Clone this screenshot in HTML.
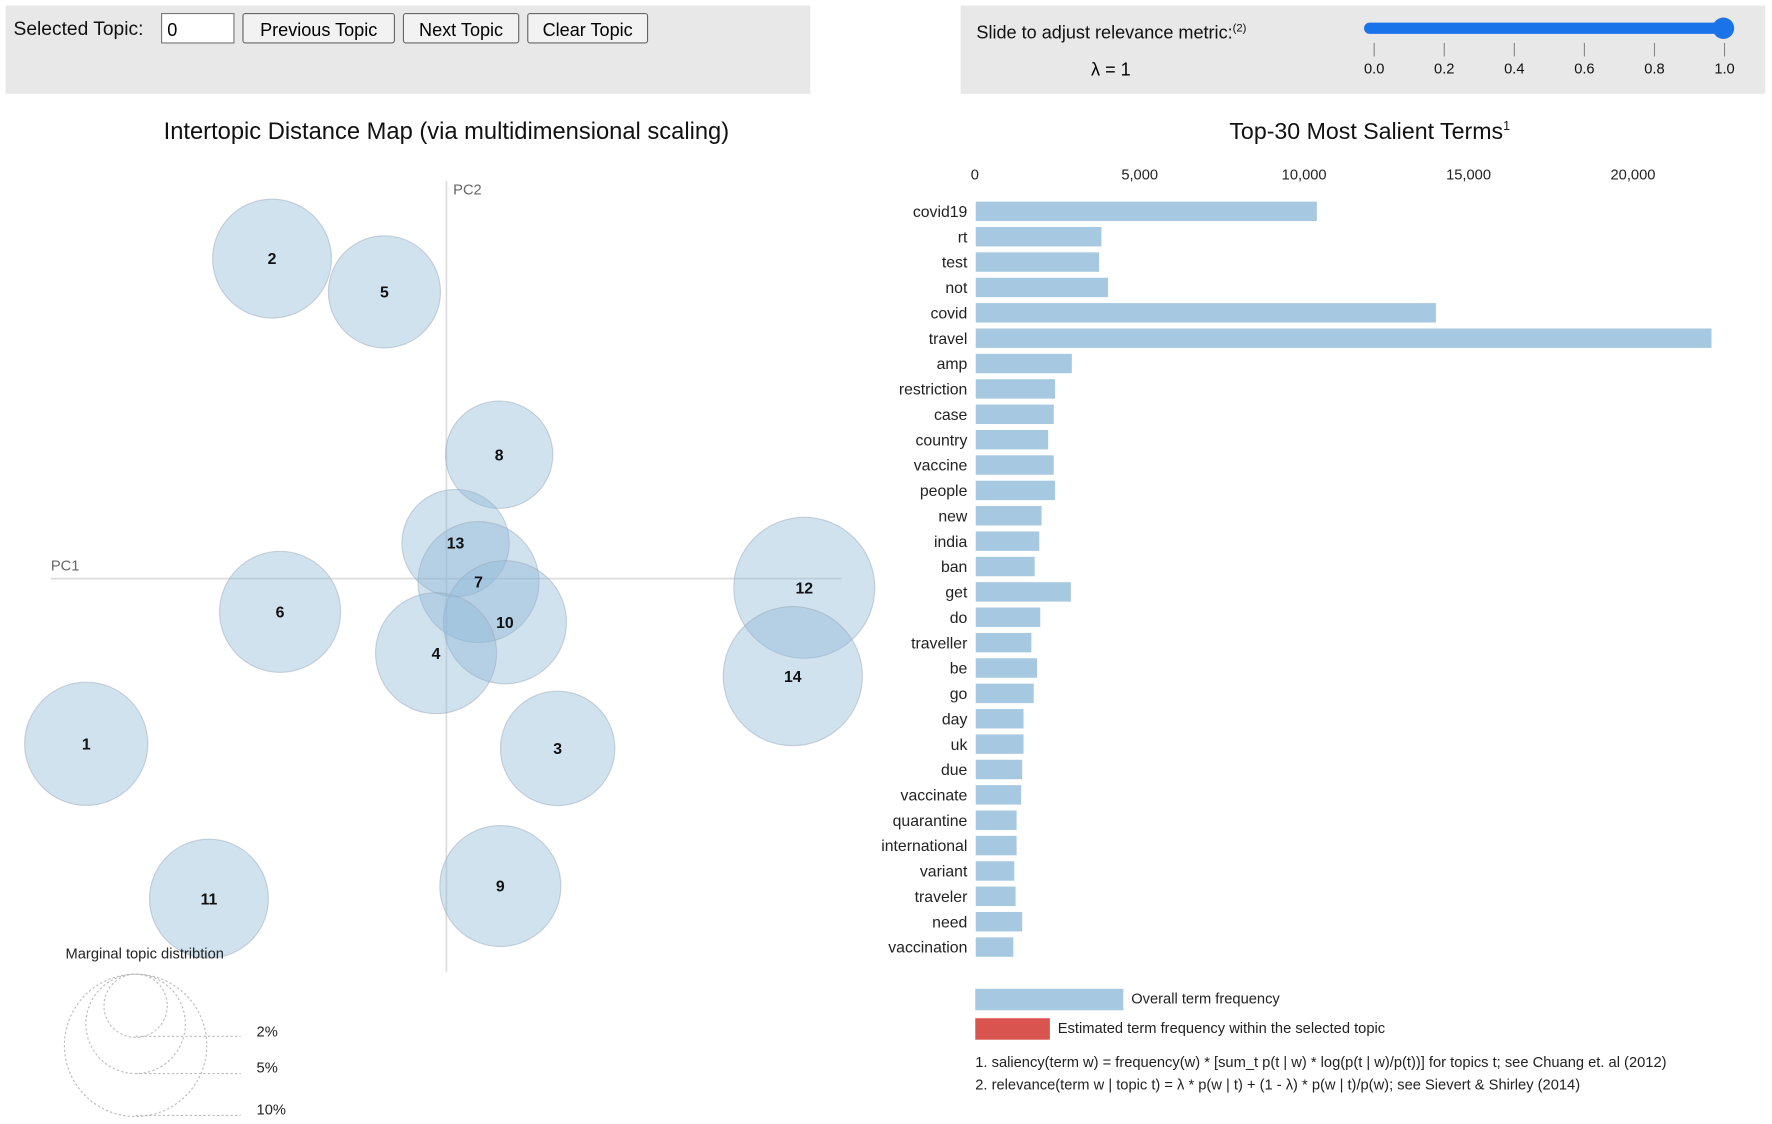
<!DOCTYPE html>
<html><head><meta charset="utf-8"><style>
html,body{margin:0;padding:0;background:#fff}
svg{display:block;font-family:"Liberation Sans",Arial,sans-serif}
</style></head><body>
<svg id="root" width="1772" height="1124" viewBox="0 0 1568 994.6" xmlns="http://www.w3.org/2000/svg">
<rect x="5" y="5" width="712" height="78" fill="#e8e8e8"/>
<text x="12" y="31" font-size="17" fill="#111">Selected Topic:</text>
<rect x="143" y="12" width="64" height="26" fill="#fff" stroke="#777"/>
<text x="148" y="32" font-size="16">0</text>
<g><rect x="215" y="12" width="134" height="26" fill="#f2f2f2" stroke="#666" rx="2"/><text x="282" y="32" font-size="16" text-anchor="middle">Previous Topic</text></g>
<g><rect x="357" y="12" width="102" height="26" fill="#f2f2f2" stroke="#666" rx="2"/><text x="408" y="32" font-size="16" text-anchor="middle">Next Topic</text></g>
<g><rect x="467" y="12" width="106" height="26" fill="#f2f2f2" stroke="#666" rx="2"/><text x="520" y="32" font-size="16" text-anchor="middle">Clear Topic</text></g>

<rect x="850" y="5" width="712" height="78" fill="#e8e8e8"/>
<text x="864" y="34" font-size="16" fill="#111">Slide to adjust relevance metric:<tspan font-size="10" dy="-6">(2)</tspan></text>
<text x="983" y="67" font-size="16" text-anchor="middle">λ = 1</text>
<line x1="1212" y1="25" x2="1525" y2="25" stroke="#1a73e8" stroke-width="10" stroke-linecap="round"/>
<circle cx="1525" cy="25" r="9.5" fill="#1a73e8"/>
<g id="sliderTicks" font-size="13" text-anchor="middle" fill="#111"></g>

<text x="395" y="123" font-size="21" text-anchor="middle" fill="#111">Intertopic Distance Map (via multidimensional scaling)</text>
<text x="1212" y="123" font-size="20.5" text-anchor="middle" fill="#111">Top-30 Most Salient Terms<tspan font-size="11" dy="-8">1</tspan></text>

<line x1="395" y1="160" x2="395" y2="860" stroke="#ddd" stroke-width="1.5"/>
<line x1="45" y1="512" x2="745" y2="512" stroke="#ddd" stroke-width="1.5"/>
<text x="45" y="505" font-size="13" fill="#666">PC1</text>
<text x="401" y="172" font-size="13" fill="#666">PC2</text>
<g id="circles"></g>

<text x="58" y="848" font-size="13" fill="#222">Marginal topic distribtion</text>
<g fill="none" stroke="#bbb" stroke-dasharray="2,2">
<circle cx="120" cy="890" r="28"/><circle cx="120" cy="906" r="44"/><circle cx="120" cy="925" r="63"/>
<line x1="120" y1="917" x2="213" y2="917"/><line x1="120" y1="950" x2="213" y2="950"/><line x1="120" y1="987" x2="213" y2="987"/>
</g>
<text x="227" y="917" font-size="13" fill="#222">2%</text>
<text x="227" y="949" font-size="13" fill="#222">5%</text>
<text x="227" y="986" font-size="13" fill="#222">10%</text>

<g id="bars"></g>

<rect x="863" y="875" width="131" height="19" fill="#a6c8e0"/>
<text x="1001" y="888" font-size="13" fill="#222">Overall term frequency</text>
<rect x="863" y="901" width="66" height="19" fill="#d9534f"/>
<text x="936" y="914" font-size="13" fill="#222">Estimated term frequency within the selected topic</text>
<text x="863" y="944" font-size="13" fill="#222">1. saliency(term w) = frequency(w) * [sum_t p(t | w) * log(p(t | w)/p(t))] for topics t; see Chuang et. al (2012)</text>
<text x="863" y="964" font-size="13" fill="#222">2. relevance(term w | topic t) = λ * p(w | t) + (1 - λ) * p(w | t)/p(w); see Sievert &amp; Shirley (2014)</text>
</svg>
<script>
const terms=["covid19","rt","test","not","covid","travel","amp","restriction","case","country","vaccine","people","new","india","ban","get","do","traveller","be","go","day","uk","due","vaccinate","quarantine","international","variant","traveler","need","vaccination"];
const freqs=[10400,3850,3780,4050,14020,22400,2950,2440,2400,2230,2400,2440,2030,1960,1820,2920,1990,1720,1890,1790,1480,1480,1440,1410,1270,1270,1200,1240,1440,1170];
const xTicks=[0,5000,10000,15000,20000];
const xTickLabels=["0","5,000","10,000","15,000","20,000"];
const topicIds=[2,5,8,13,7,10,4,6,12,14,1,3,11,9];
const topicPC1=[-0.152,-0.054,0.046,0.008,0.028,0.051,-0.009,-0.145,0.312,0.302,-0.314,0.097,-0.207,0.047];
const topicPC2=[0.279,0.250,0.108,0.031,-0.003,-0.038,-0.065,-0.029,-0.008,-0.085,-0.144,-0.148,-0.279,-0.268];
const topicSize=[2.7,2.4,2.2,2.2,2.8,2.9,2.8,2.8,3.8,3.7,2.9,2.5,2.7,2.8];
const sliderTicks=[0,0.2,0.4,0.6,0.8,1.0];
const NS="http://www.w3.org/2000/svg";
function mk(t,a,p){const e=document.createElementNS(NS,t);for(const k in a)e.setAttribute(k,a[k]);p.appendChild(e);return e;}
const xs=v=>1216+v*310;
const st=document.getElementById('sliderTicks');
sliderTicks.forEach(v=>{
 const l=mk('line',{x1:xs(v),x2:xs(v),y1:38,y2:50,stroke:'#888'},st);
 
 
 const t=mk('text',{x:xs(v),y:65},st);t.textContent=v.toFixed(1);
 
 
});
const bx=v=>863+v*145.5/5000;
const by=i=>187+i*22.45;
const bg=document.getElementById('bars');
xTicks.forEach((v,i)=>{
 const t=mk('text',{x:bx(v),y:159,'font-size':13,'text-anchor':i==0?'start':'middle',fill:'#222'},bg);
 if(i==0)t.setAttribute('x',bx(v)-4);
 t.textContent=xTickLabels[i];
 
 
});
terms.forEach((w,i)=>{
 const r=mk('rect',{x:bx(0),y:by(i)-9,width:bx(freqs[i])-bx(0),height:18,fill:'#a6c8e0',stroke:'#fff','stroke-width':0.8},bg);
 
 
 const t=mk('text',{x:856,y:by(i)+5,'font-size':14,'text-anchor':'end',fill:'#222'},bg);
 t.textContent=w;
 
 
});
const cx=v=>395+v*1015;
const cy=v=>512-v*1015;
const cg=document.getElementById('circles');
topicIds.forEach((id,i)=>{
 const c=mk('circle',{cx:cx(topicPC1[i]),cy:cy(topicPC2[i]),r:Math.sqrt(topicSize[i])*32,fill:'#8db6d6','fill-opacity':0.4,stroke:'#9ab','stroke-opacity':0.5},cg);
 
 
});
topicIds.forEach((id,i)=>{
 const t=mk('text',{x:cx(topicPC1[i]),y:cy(topicPC2[i])+5,'font-size':14,'font-weight':'bold','text-anchor':'middle',fill:'#111'},cg);
 t.textContent=id;
 
 
});
</script>
</body></html>
